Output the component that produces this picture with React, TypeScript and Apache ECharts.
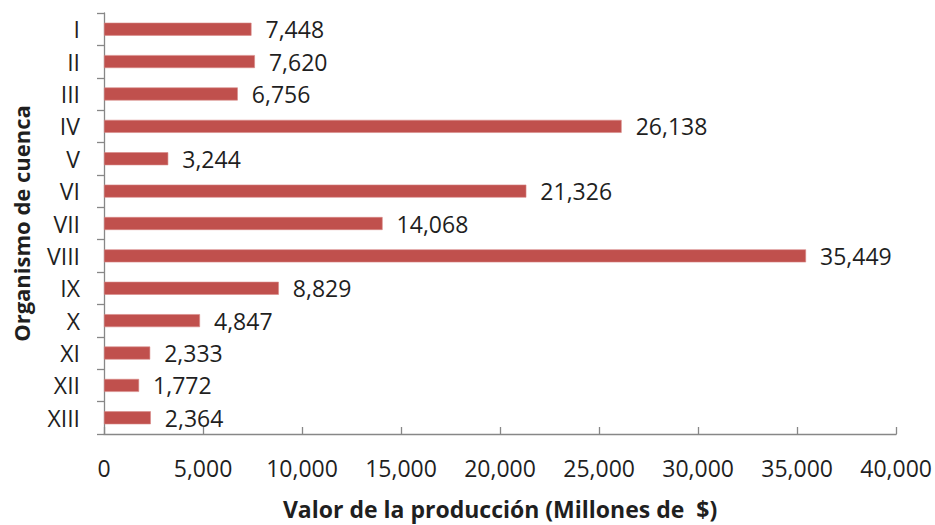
import React, { useEffect, useRef } from "react";
import * as echarts from "echarts";

const categories = ["I", "II", "III", "IV", "V", "VI", "VII", "VIII", "IX", "X", "XI", "XII", "XIII"];
const values = [7448, 7620, 6756, 26138, 3244, 21326, 14068, 35449, 8829, 4847, 2333, 1772, 2364];
const xTicks = { min: 0, max: 40000, interval: 5000 };
const xAxisTitle = "Valor de la producción (Millones de  $)";
const yAxisTitle = "Organismo de cuenca";

const fmt = (v: number) => v.toLocaleString("en-US");
const FONT = "'Open Sans', sans-serif";
const TEXT = "#1f1f1f";
const AXIS = "#878787";

export default function App() {
  const ref = useRef<HTMLDivElement>(null);
  useEffect(() => {
    if (!ref.current) return;
    const chart = echarts.init(ref.current, undefined, { renderer: "svg" });
    chart.setOption({
      animation: false,
      backgroundColor: "#ffffff",
      textStyle: { fontFamily: FONT },
      grid: { left: 104, right: 38, top: 13, bottom: 89, containLabel: false },
      xAxis: {
        type: "value",
        min: xTicks.min,
        max: xTicks.max,
        interval: xTicks.interval,
        name: xAxisTitle,
        nameLocation: "middle",
        nameGap: 63,
        nameTextStyle: { fontFamily: FONT, fontSize: 23, fontWeight: "bold", color: TEXT },
        axisLine: { show: true, lineStyle: { color: AXIS, width: 1.3 } },
        axisTick: { show: true, inside: true, length: 7, lineStyle: { color: AXIS, width: 1.3 } },
        axisLabel: { fontFamily: FONT, fontSize: 23, color: TEXT, margin: 22, formatter: (v: number) => fmt(v) },
        splitLine: { show: false },
      },
      yAxis: {
        type: "category",
        inverse: true,
        data: categories,
        name: yAxisTitle,
        nameLocation: "middle",
        nameGap: 72,
        nameRotate: 90,
        nameTextStyle: { fontFamily: FONT, fontSize: 22, fontWeight: "bold", color: TEXT },
        axisLine: { show: true, lineStyle: { color: AXIS, width: 1.3 } },
        axisTick: { show: true, inside: false, length: 7, lineStyle: { color: AXIS, width: 1.3 } },
        axisLabel: { fontFamily: FONT, fontSize: 23, color: TEXT, margin: 24 },
      },
      series: [
        {
          type: "bar",
          data: values,
          barWidth: 13,
          itemStyle: { color: "#C0504D", borderColor: "#D88A88", borderWidth: 0.6 },
          label: {
            show: true,
            position: "right",
            distance: 14,
            fontFamily: FONT,
            fontSize: 23,
            color: TEXT,
            formatter: (p: any) => fmt(p.value),
          },
        },
      ],
    });
    return () => chart.dispose();
  }, []);
  return (
    <div
      ref={ref}
      style={{ position: "fixed", left: 0, top: 0, width: 935, height: 525, background: "#fff" }}
    />
  );
}
